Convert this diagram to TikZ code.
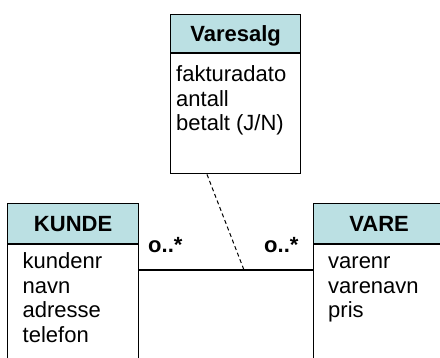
\documentclass[tikz,border=0pt]{standalone}
\usepackage{fontspec}
\setmainfont{Liberation Sans}
\usetikzlibrary{calc,positioning}
\definecolor{hodefarge}{RGB}{187,224,227}
\tikzset{
	hode/.style={draw, line width=1.2pt, fill=hodefarge, minimum width=131pt, minimum height=40pt, anchor=north west, inner sep=0pt, text height=16pt, text depth=0pt, font=\bfseries\fontsize{22}{24.5}\selectfont},
	kropp/.style={draw, line width=1.2pt, fill=white, minimum width=131pt, anchor=north west, inner sep=0pt},
	felt/.style={anchor=base west, align=left, inner sep=0pt, font=\fontsize{22}{24.5}\selectfont},
	mult/.style={anchor=base west, inner sep=0pt, font=\bfseries\fontsize{22}{24.5}\selectfont},
	linje/.style={line width=1.1pt},
	stiplet/.style={line width=1pt, dash pattern=on 4pt off 3pt}
}

\begin{document}
\begin{tikzpicture}[x=1pt, y=-1pt]
			%%%%% START %%%%%
			
			\useasboundingbox (0, 0) rectangle (440, 358);
			\clip (0, 0) rectangle (440, 358);
			
			% base of a multi-line node is its last line
			\node[hode, minimum width=130pt, minimum height=38pt] (varesalg) at (170, 14) {Varesalg};
			\node[kropp, minimum width=130pt, minimum height=120pt] (varesalgkropp) at (varesalg.south west) {};
			\node[felt] (varesalgfelt) at (176, 131) {fakturadato\\antall\\betalt (J/N)};
			
			\node[hode] (kunde) at (7, 203) {KUNDE};
			\node[kropp, minimum height=160pt] (kundekropp) at (kunde.south west) {};
			\node[felt] (kundefelt) at (22.5, 342.5) {kundenr\\navn\\adresse\\telefon};
			
			\node[hode] (vare) at (313, 203) {VARE};
			\node[kropp, minimum height=160pt] (varekropp) at (vare.south west) {};
			\node[felt] (varefelt) at (328, 318) {varenr\\varenavn\\pris};
			
			\coordinate (knekk) at (244, 270);
			\draw[linje] (kundekropp.east |- knekk) -- (varekropp.west |- knekk);
			\draw[stiplet] ($(varesalgkropp.south west)+(37, 0)$) -- (knekk);
			
			\node[mult] (kundemult) at (148, 253) {o..*};
			\node[mult] (varemult) at (264, 253) {o..*};
			
			%%%%% END %%%%%
\end{tikzpicture}
\end{document}
